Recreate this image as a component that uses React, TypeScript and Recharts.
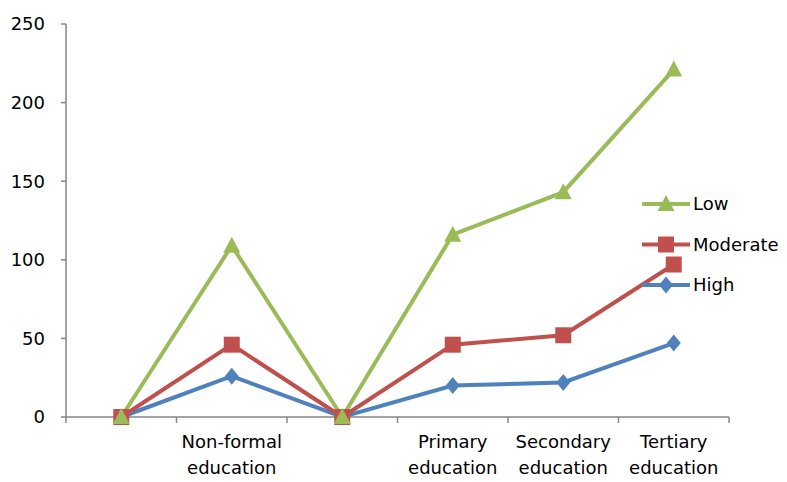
import { Line, LineChart, XAxis, YAxis } from "recharts";

const CATEGORIES = ["", "Non-formal education", "", "Primary education", "Secondary education", "Tertiary education"];
const LOW = [0, 109, 0, 116, 143, 221];
const MODERATE = [0, 46, 0, 46, 52, 97];
const HIGH = [0, 26, 0, 20, 22, 47];
const Y_TICKS = [0, 50, 100, 150, 200, 250];

const GREEN = "#9BBB59";
const RED = "#C0504D";
const BLUE = "#4F81BD";
const AXIS = "#868686";
const FONT = "'DejaVu Sans', sans-serif";
const PLOT_W = 663;
const BAND = PLOT_W / CATEGORIES.length;

const rows = CATEGORIES.map((name, i) => ({
  name,
  pos: i + 0.5,
  low: LOW[i],
  moderate: MODERATE[i],
  high: HIGH[i]
}));

function triangle(cx: number, cy: number) {
  return `M${cx},${cy - 9} L${cx + 8.5},${cy + 7} L${cx - 8.5},${cy + 7} Z`;
}
function square(cx: number, cy: number) {
  return `M${cx - 8},${cy - 8} h16 v16 h-16 Z`;
}
function diamond(cx: number, cy: number) {
  return `M${cx},${cy - 8.5} L${cx + 7},${cy} L${cx},${cy + 8.5} L${cx - 7},${cy} Z`;
}

const makeDot = (shape: (x: number, y: number) => string, color: string) =>
  (props: any) => (
    <path key={`d-${props.index}`} d={shape(props.cx, props.cy)} fill={color} />
  );

// tick label in two lines, plus the Excel-style tick marks between categories
function CategoryTick(props: any) {
  const { x, y, payload, index } = props;
  const idx = Math.floor(payload.value);
  const label = CATEGORIES[idx] || "";
  const words = label ? label.split(" ") : [];
  const last = idx === CATEGORIES.length - 1;
  return (
    <g>
      <line x1={x - BAND / 2} y1={y} x2={x - BAND / 2} y2={y + 6} stroke={AXIS} strokeWidth={1.5} />
      {last && (
        <line x1={x + BAND / 2} y1={y} x2={x + BAND / 2} y2={y + 6} stroke={AXIS} strokeWidth={1.5} />
      )}
      {words.length > 0 && (
        <text x={x} y={y} textAnchor="middle" fontFamily={FONT} fontSize={18} fill="#000" key={index}>
          {words.map((w: string, i: number) => (
            <tspan key={i} x={x} dy={i === 0 ? 31 : 26}>
              {w}
            </tspan>
          ))}
        </text>
      )}
    </g>
  );
}

const LEGEND_ITEMS = [
  { label: "Low", color: GREEN, shape: triangle },
  { label: "Moderate", color: RED, shape: square },
  { label: "High", color: BLUE, shape: diamond }
];

function LegendBox() {
  return (
    <svg width={150} height={110}>
      {LEGEND_ITEMS.map((it, i) => {
        const cy = 14 + i * 40.5;
        return (
          <g key={it.label}>
            <line x1={2} y1={cy} x2={50} y2={cy} stroke={it.color} strokeWidth={4} />
            <path d={it.shape(26, cy)} fill={it.color} />
            <text x={53} y={cy + 6} fontFamily={FONT} fontSize={18} fill="#000">
              {it.label}
            </text>
          </g>
        );
      })}
    </svg>
  );
}

export default function App() {
  return (
    <div style={{ position: "absolute", left: 0, top: 0, width: 787, height: 482, background: "#fff" }}>
      <LineChart
        width={787}
        height={482}
        data={rows}
        margin={{ top: 24, right: 58, bottom: 0, left: 0 }}
      >
        <XAxis
          dataKey="pos"
          type="number"
          domain={[0, 6]}
          ticks={rows.map((r) => r.pos)}
          tick={<CategoryTick />}
          tickLine={false}
          tickSize={0}
          tickMargin={0}
          axisLine={{ stroke: AXIS, strokeWidth: 1.5 }}
          interval={0}
          height={65}
        />
        <YAxis
          domain={[0, 250]}
          ticks={Y_TICKS}
          width={66}
          tickSize={5}
          tickMargin={16}
          axisLine={{ stroke: AXIS, strokeWidth: 1.5 }}
          tickLine={{ stroke: AXIS, strokeWidth: 1.5 }}
          tick={{ fill: "#000", fontSize: 18, fontFamily: FONT }}
        />
        <Line
          dataKey="high"
          name="High"
          stroke={BLUE}
          strokeWidth={4}
          dot={makeDot(diamond, BLUE)}
          activeDot={false}
          isAnimationActive={false}
        />
        <Line
          dataKey="moderate"
          name="Moderate"
          stroke={RED}
          strokeWidth={4}
          dot={makeDot(square, RED)}
          activeDot={false}
          isAnimationActive={false}
        />
        <Line
          dataKey="low"
          name="Low"
          stroke={GREEN}
          strokeWidth={4}
          dot={makeDot(triangle, GREEN)}
          activeDot={false}
          isAnimationActive={false}
        />
      </LineChart>
      <div style={{ position: "absolute", left: 640, top: 190 }}>
        <LegendBox />
      </div>
    </div>
  );
}
